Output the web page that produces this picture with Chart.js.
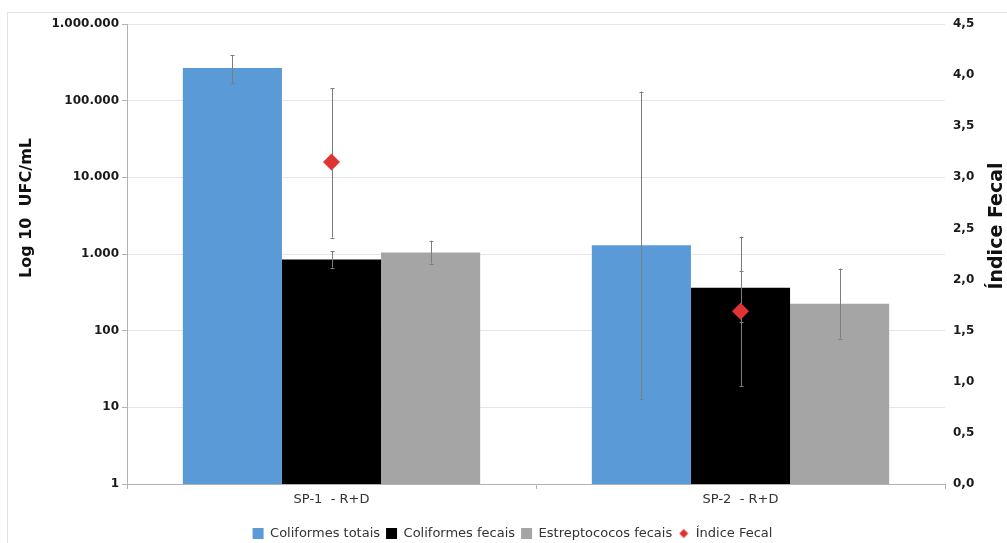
<!DOCTYPE html>
<html>
<head>
<meta charset="utf-8">
<script src="https://cdn.jsdelivr.net/npm/chart.js@4.4.0/dist/chart.umd.min.js"></script>
<style>
  html, body { margin: 0; padding: 0; background: #fff; overflow: hidden; }
  #frame { position: absolute; left: 7px; top: 12px; width: 1100px; height: 600px; border: 1px solid #e2e2e2; }
  #chart { position: absolute; left: 0; top: 0; }
</style>
</head>
<body>
<div id="frame"></div>
<canvas id="chart" width="1007" height="550"></canvas>
<script>
const categories = ["SP-1  - R+D", "SP-2  - R+D"];

const totais = [267000, 1300];
const totaisLow = [172000, 13];
const totaisHigh = [395000, 131000];

const fecais = [845, 362];
const fecaisLow = [665, 128];
const fecaisHigh = [1084, 596];

const estrep = [1043, 224];
const estrepLow = [750, 79];
const estrepHigh = [1492, 646];

const indice = [3.15, 1.69];
const indiceLow = [2.41, 0.96];
const indiceHigh = [3.87, 2.42];

const leftTicks = [1, 10, 100, 1000, 10000, 100000, 1000000];
const rightTicks = [0, 0.5, 1, 1.5, 2, 2.5, 3, 3.5, 4, 4.5];

const FONT = "'DejaVu Sans', sans-serif";

function dotThousands(v) {
    return String(v).replace(/\B(?=(\d{3})+(?!\d))/g, ".");
}

// small diamond for the legend
const diamond = document.createElement("canvas");
diamond.width = 10;
diamond.height = 10;
(function () {
    const c = diamond.getContext("2d");
    c.fillStyle = "#e0312f";
    c.beginPath();
    c.moveTo(5, 0.5);
    c.lineTo(9.5, 5);
    c.lineTo(5, 9.5);
    c.lineTo(0.5, 5);
    c.closePath();
    c.fill();
})();

function drawErrors(chart, i) {
    const ds = chart.data.datasets[i];
    const meta = chart.getDatasetMeta(i);
    const yScale = chart.scales[meta.yAxisID];
    const ctx = chart.ctx;
    ctx.save();
    ctx.strokeStyle = "#7d7d7d";
    ctx.lineWidth = 1;
    meta.data.forEach((el, j) => {
        const x = Math.round(el.x) + 0.5;
        const yl = yScale.getPixelForValue(ds.errLow[j]);
        const yh = yScale.getPixelForValue(ds.errHigh[j]);
        ctx.beginPath();
        ctx.moveTo(x, yh);
        ctx.lineTo(x, yl);
        ctx.moveTo(x - 2, Math.round(yh) + 0.5);
        ctx.lineTo(x + 2, Math.round(yh) + 0.5);
        ctx.moveTo(x - 2, Math.round(yl) + 0.5);
        ctx.lineTo(x + 2, Math.round(yl) + 0.5);
        ctx.stroke();
    });
    ctx.restore();
}

const errorBars = {
    id: "errorBars",
    afterDatasetDraw(chart, args) {
        if (args.meta.type === "bar") drawErrors(chart, args.index);
    },
    beforeDatasetDraw(chart, args) {
        if (args.meta.type === "line") drawErrors(chart, args.index);
    }
};

const axisTitles = {
    id: "axisTitles",
    afterDraw(chart) {
        const ctx = chart.ctx;
        ctx.save();
        ctx.fillStyle = "#111";
        ctx.textAlign = "center";
        ctx.textBaseline = "middle";
        ctx.font = "bold 16px " + FONT;
        ctx.translate(27, 208);
        ctx.rotate(-Math.PI / 2);
        ctx.fillText("Log 10  UFC/mL", 0, 0);
        ctx.restore();

        ctx.save();
        ctx.fillStyle = "#111";
        ctx.textAlign = "center";
        ctx.textBaseline = "middle";
        ctx.font = "bold 19px " + FONT;
        ctx.translate(997, 226);
        ctx.rotate(-Math.PI / 2);
        ctx.fillText("Índice Fecal", 0, 0);
        ctx.restore();
    }
};

const PAD_LEFT = 18;

new Chart(document.getElementById("chart"), {
    type: "bar",
    data: {
        labels: categories,
        datasets: [
            {
                label: "Coliformes totais",
                data: totais,
                errLow: totaisLow,
                errHigh: totaisHigh,
                backgroundColor: "#5a9ad6",
                pointStyle: "rect",
                yAxisID: "y"
            },
            {
                label: "Coliformes fecais",
                data: fecais,
                errLow: fecaisLow,
                errHigh: fecaisHigh,
                backgroundColor: "#000000",
                pointStyle: "rect",
                yAxisID: "y"
            },
            {
                label: "Estreptococos fecais",
                data: estrep,
                errLow: estrepLow,
                errHigh: estrepHigh,
                backgroundColor: "#a5a5a5",
                pointStyle: "rect",
                yAxisID: "y"
            },
            {
                type: "line",
                label: "Índice Fecal",
                data: indice,
                errLow: indiceLow,
                errHigh: indiceHigh,
                showLine: false,
                pointStyle: "rectRot",
                pointRadius: 8.5,
                pointHoverRadius: 8.5,
                backgroundColor: "#e03434",
                borderColor: "#e03434",
                borderWidth: 0,
                yAxisID: "y1",
                order: -1
            }
        ]
    },
    options: {
        responsive: false,
        animation: false,
        devicePixelRatio: 1,
        layout: { padding: { left: PAD_LEFT, right: 0, top: 24, bottom: 0 } },
        datasets: {
            bar: { categoryPercentage: 0.727, barPercentage: 1.0 }
        },
        plugins: {
            tooltip: { enabled: false },
            legend: {
                position: "bottom",
                labels: {
                    usePointStyle: true,
                    boxWidth: 11,
                    boxHeight: 11,
                    padding: 6,
                    color: "#333",
                    font: { family: FONT, size: 13 },
                    sort: (a, b) => a.datasetIndex - b.datasetIndex,
                    generateLabels(chart) {
                        const items = Chart.defaults.plugins.legend.labels.generateLabels(chart);
                        items.forEach(it => {
                            if (it.datasetIndex === 3) it.pointStyle = diamond;
                            it.lineWidth = 0;
                        });
                        return items;
                    }
                }
            }
        },
        scales: {
            x: {
                offset: true,
                grid: {
                    offset: true,
                    drawOnChartArea: false,
                    drawTicks: true,
                    tickLength: 5,
                    color: "#b3b3b3"
                },
                border: { color: "#b3b3b3" },
                ticks: {
                    color: "#333",
                    padding: 3,
                    font: { family: FONT, size: 13 }
                },
                afterFit(s) { s.height = 37; }
            },
            y: {
                type: "logarithmic",
                position: "left",
                min: 1,
                max: 1000000,
                afterBuildTicks(s) { s.ticks = leftTicks.map(v => ({ value: v })); },
                grid: {
                    color: c => (c.tick && c.tick.value === 1 ? "rgba(0,0,0,0)" : "#e6e6e6"),
                    tickColor: "#b3b3b3",
                    tickLength: 5
                },
                border: { color: "#b3b3b3" },
                ticks: {
                    color: "#1a1a1a",
                    padding: 3,
                    font: { family: FONT, size: 12, weight: "bold" },
                    callback: v => dotThousands(v)
                },
                afterFit(s) { s.width = 127 - PAD_LEFT; }
            },
            y1: {
                type: "linear",
                position: "right",
                min: 0,
                max: 4.5,
                afterBuildTicks(s) { s.ticks = rightTicks.map(v => ({ value: v })); },
                grid: { display: false, drawTicks: false },
                border: { display: false },
                ticks: {
                    color: "#1a1a1a",
                    padding: 8,
                    font: { family: FONT, size: 12, weight: "bold" },
                    callback: v => v.toFixed(1).replace(".", ",")
                },
                afterFit(s) { s.width = 62; }
            }
        }
    },
    plugins: [errorBars, axisTitles]
});
</script>
</body>
</html>
